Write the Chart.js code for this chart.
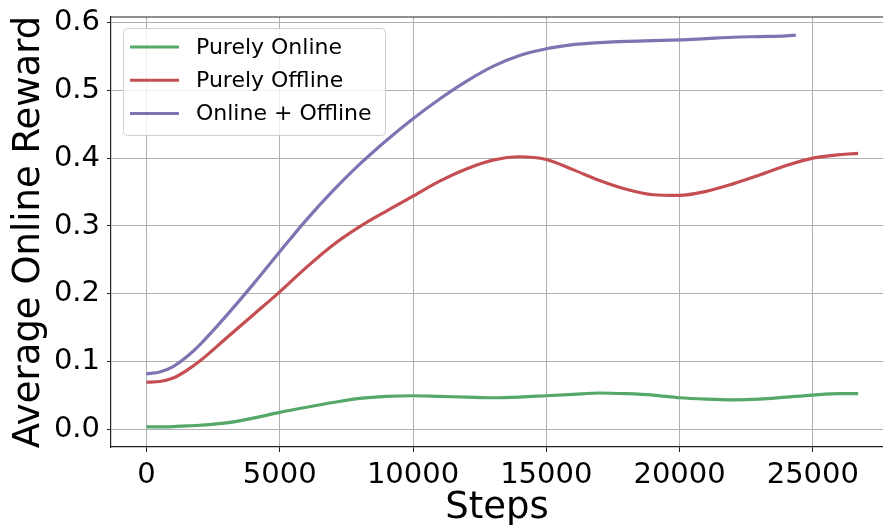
<!DOCTYPE html>
<html>
<head>
<meta charset="utf-8">
<script src="https://cdn.jsdelivr.net/npm/chart.js@4.4.1/dist/chart.umd.min.js"></script>
<style>
  html, body { margin: 0; padding: 0; background: #fff; }
  #wrap { width: 883px; height: 525px; }
</style>
</head>
<body>
<div id="wrap"><canvas id="chart"></canvas></div>
<script>
// steps on the x axis
const steps = [0, 500, 1000, 1500, 2000, 3000, 4000, 5000, 6000, 7000, 8000, 9000, 10000, 11000, 12000, 13000,
  14000, 15000, 16000, 17000, 18000, 19000, 20000, 21000, 22000, 23000, 24000, 25000, 26000, 26700];
const mixedSteps = [0, 500, 1000, 1500, 2000, 3000, 4000, 5000, 6000, 7000, 8000, 9000, 10000, 11000, 12000, 13000,
  14000, 15000, 16000, 17000, 18000, 19000, 20000, 21000, 22000, 23000, 24000, 24360];

const purelyOnline = [0.004, 0.004, 0.0045, 0.0055, 0.0065, 0.010, 0.017, 0.0255, 0.033, 0.040, 0.046, 0.049, 0.050, 0.049,
  0.048, 0.047, 0.048, 0.050, 0.052, 0.054, 0.053, 0.051, 0.047, 0.045, 0.044, 0.045, 0.048, 0.051, 0.053, 0.053];
const purelyOffline = [0.070, 0.071, 0.076, 0.087, 0.101, 0.135, 0.169, 0.203, 0.239, 0.272, 0.299, 0.322, 0.344, 0.366,
  0.384, 0.397, 0.402, 0.398, 0.383, 0.367, 0.354, 0.346, 0.345, 0.351, 0.362, 0.375, 0.389, 0.400, 0.405, 0.407];
const onlineOffline = [0.082, 0.085, 0.093, 0.107, 0.125, 0.168, 0.214, 0.262, 0.309, 0.352, 0.391, 0.426, 0.458, 0.487,
  0.513, 0.535, 0.551, 0.561, 0.567, 0.570, 0.572, 0.573, 0.574, 0.576, 0.578, 0.579, 0.580, 0.581];

const labels = ['Purely Online', 'Purely Offline', 'Online + Offline'];
const colors = ['#55a868', '#c44e52', '#8172b2'];
const xTicks = [0, 5000, 10000, 15000, 20000, 25000];
const yTicks = [0.0, 0.1, 0.2, 0.3, 0.4, 0.5, 0.6];

const FONT = "'DejaVu Sans', sans-serif";

function toPoints(xs, ys) {
  return xs.map((x, i) => ({ x: x, y: ys[i] }));
}

// matplotlib style legend box inside the plot, plus the top spine
const boxLegend = {
  id: 'boxLegend',
  afterDraw(chart) {
    const ctx = chart.ctx;
    const area = chart.chartArea;
    ctx.save();
    // top spine
    ctx.strokeStyle = '#222';
    ctx.lineWidth = 1.2;
    ctx.beginPath();
    ctx.moveTo(area.left, area.top);
    ctx.lineTo(area.right, area.top);
    ctx.stroke();

    const x0 = area.left + 12, y0 = area.top + 11, w = 262, h = 107;
    ctx.fillStyle = 'rgba(255,255,255,0.8)';
    ctx.strokeStyle = '#d0d0d0';
    ctx.lineWidth = 1;
    ctx.beginPath();
    ctx.roundRect(x0 + 0.5, y0 + 0.5, w, h, 4);
    ctx.fill();
    ctx.stroke();

    ctx.font = '22px ' + FONT;
    ctx.textBaseline = 'middle';
    chart.data.datasets.forEach((ds, i) => {
      const y = y0 + 19 + i * 33.3;
      ctx.strokeStyle = ds.borderColor;
      ctx.lineWidth = 3;
      ctx.beginPath();
      ctx.moveTo(x0 + 7, y);
      ctx.lineTo(x0 + 56, y);
      ctx.stroke();
      ctx.fillStyle = '#000';
      ctx.fillText(ds.label, x0 + 73, y + 1);
    });
    ctx.restore();
  }
};

const series = [toPoints(steps, purelyOnline), toPoints(steps, purelyOffline), toPoints(mixedSteps, onlineOffline)];

new Chart(document.getElementById('chart'), {
  type: 'line',
  data: {
    datasets: series.map((pts, i) => ({
      label: labels[i],
      data: pts,
      borderColor: colors[i],
      backgroundColor: colors[i],
      borderWidth: 3.2,
      pointRadius: 0,
      cubicInterpolationMode: 'monotone',
      fill: false
    }))
  },
  options: {
    responsive: true,
    maintainAspectRatio: false,
    devicePixelRatio: 1,
    animation: false,
    layout: { padding: { top: 17, right: 0, left: 0, bottom: 0 } },
    plugins: {
      legend: { display: false },
      tooltip: { enabled: false }
    },
    scales: {
      x: {
        type: 'linear',
        min: -1330,
        max: 27632,
        afterBuildTicks: (scale) => { scale.ticks = xTicks.map(v => ({ value: v })); },
        afterFit: (scale) => {
          scale.height = 78;
          scale.paddingLeft = 0;
          scale.paddingRight = 0;
        },
        ticks: {
          color: '#000',
          font: { family: FONT, size: 29 },
          padding: 6,
          maxRotation: 0,
          callback: (v) => String(v)
        },
        grid: { color: '#b0b0b0', lineWidth: 1, tickColor: '#222', tickLength: 5 },
        border: { display: true, color: '#222', width: 1.2 },
        title: {
          display: true,
          text: 'Steps',
          color: '#000',
          font: { family: FONT, size: 37, lineHeight: 0.9 },
          padding: { top: 4, bottom: 0 }
        }
      },
      y: {
        type: 'linear',
        min: -0.0255,
        max: 0.6078,
        afterBuildTicks: (scale) => { scale.ticks = yTicks.map(v => ({ value: v })); },
        afterFit: (scale) => {
          scale.width = 111;
          scale.paddingTop = 0;
          scale.paddingBottom = 0;
        },
        ticks: {
          color: '#000',
          font: { family: FONT, size: 29 },
          padding: 7,
          callback: (v) => v.toFixed(1)
        },
        grid: { color: '#b0b0b0', lineWidth: 1, tickColor: '#222', tickLength: 4 },
        border: { display: true, color: '#222', width: 1.2 },
        title: {
          display: true,
          text: 'Average Online Reward',
          color: '#000',
          font: { family: FONT, size: 37 },
          padding: { top: 7, bottom: 0 }
        }
      }
    }
  },
  plugins: [boxLegend]
});
</script>
</body>
</html>
